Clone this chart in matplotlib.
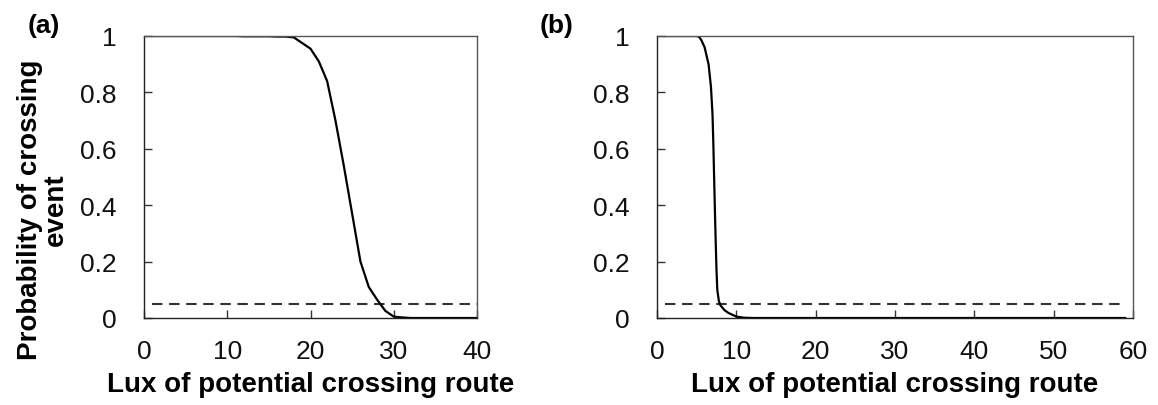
import matplotlib
matplotlib.use("Agg")
import matplotlib.pyplot as plt

plt.rcParams['font.family'] = ['Liberation Sans', 'DejaVu Sans']

# Panel (a) data
lux_a = list(range(1, 41))
prob_a = [1.0, 1.0, 1.0, 1.0, 1.0, 1.0, 1.0, 1.0, 1.0, 1.0,
          1.0, 0.999, 0.999, 0.999, 0.999, 0.998, 0.998, 0.995, 0.975, 0.955,
          0.91, 0.84, 0.70, 0.54, 0.37, 0.20, 0.11, 0.065, 0.025, 0.005,
          0.002, 0.0, 0.0, 0.0, 0.0, 0.0, 0.0, 0.0, 0.0, 0.0]

# Panel (b) data
lux_b = [1, 2, 3, 4, 5, 5.3, 5.6, 6, 6.5, 6.8, 7.0, 7.1, 7.2, 7.3, 7.4, 7.5, 7.6,
         7.8, 8.0, 8.5, 9, 10, 11] + list(range(12, 60))
prob_b = [1.0, 1.0, 1.0, 1.0, 1.0, 0.997, 0.985, 0.96, 0.90, 0.82, 0.72, 0.62, 0.50,
          0.38, 0.27, 0.17, 0.10, 0.06, 0.045, 0.028, 0.018, 0.005, 0.001] + [0.0] * 48

threshold = 0.05
thr_a_x = [1, 40]
thr_b_x = [1, 59]

xticks_a = [0, 10, 20, 30, 40]
xticks_b = [0, 10, 20, 30, 40, 50, 60]
yticks = [0, 0.2, 0.4, 0.6, 0.8, 1]
ytick_labels = ['0', '0.2', '0.4', '0.6', '0.8', '1']

fig = plt.figure(figsize=(11.58, 4.06), dpi=100)
ax_a = fig.add_axes([144/1158, 87/406, 333/1158, 282/406])
ax_b = fig.add_axes([657/1158, 87/406, 476/1158, 282/406])

spine_col = '#555555'
for ax, x, y, tx, xt, xmax in [(ax_a, lux_a, prob_a, thr_a_x, xticks_a, 40),
                               (ax_b, lux_b, prob_b, thr_b_x, xticks_b, 60)]:
    ax.plot(tx, [threshold, threshold], color='#333333', lw=1.5,
            linestyle=(0, (5, 3.2)))
    ax.plot(x, y, color='black', lw=1.6)
    ax.set_xlim(0, xmax)
    ax.set_ylim(0, 1)
    ax.set_xticks(xt)
    ax.set_xticklabels([str(v) for v in xt])
    ax.set_yticks(yticks)
    ax.set_yticklabels(ytick_labels)
    ax.tick_params(direction='in', length=6, width=1, color='#333333',
                   labelsize=19, colors='#111111')
    ax.tick_params(axis='y', pad=20)
    ax.tick_params(axis='x', pad=15)
    for s in ax.spines.values():
        s.set_color(spine_col)
        s.set_linewidth(1.0)
    ax.spines['bottom'].set_color('#222222')
    ax.spines['left'].set_color('#222222')
    ax.set_xlabel('Lux of potential crossing route', fontsize=20,
                  fontweight='bold', labelpad=6)

ax_a.set_ylabel('Probability of crossing\nevent', fontsize=20,
                fontweight='bold', linespacing=1.0)
ax_a.yaxis.set_label_coords(-0.225, 0.387)

fig.text(28/1158, 1 - 26/406, '(a)', fontsize=19, fontweight='bold',
         va='center', ha='left')
fig.text(540/1158, 1 - 26/406, '(b)', fontsize=19, fontweight='bold',
         va='center', ha='left')

fig.savefig('out.png', dpi=100, facecolor='white')
